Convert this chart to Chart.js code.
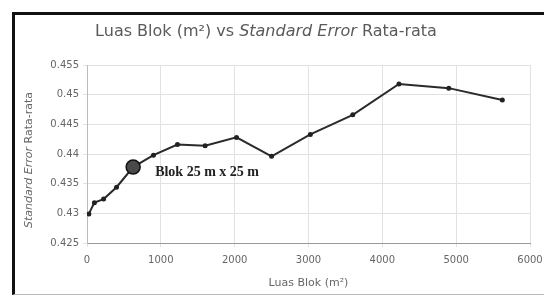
<!DOCTYPE html>
<html>
<head>
<meta charset="utf-8">
<script src="https://cdn.jsdelivr.net/npm/chart.js@4.4.1/dist/chart.umd.min.js"></script>
<style>
    html, body { margin: 0; padding: 0; background: #fff; }
    #wrap { position: relative; width: 544px; height: 296px; overflow: hidden; }
    #frame {
        position: absolute; left: 12px; top: 12px; width: 560px; height: 279px;
        border-left: 3px solid #111; border-top: 3px solid #111; border-bottom: 1px solid #bbb;
    }
    #grafico { position: absolute; left: 0; top: 0; }
</style>
</head>
<body>
<div id="wrap">
    <div id="frame"></div>
    <canvas id="grafico" width="544" height="296"></canvas>
</div>
<script>
// Luas blok (m2) = sisi x sisi, 5 m ... 75 m
const luasBlok = [25, 100, 225, 400, 625, 900, 1225, 1600, 2025, 2500, 3025, 3600, 4225, 4900, 5625];
// Standard error rata-rata
const stdError = [0.4299, 0.4318, 0.4324, 0.4344, 0.4378, 0.4398, 0.4416, 0.4414, 0.4428, 0.4396, 0.4433, 0.4466, 0.4518, 0.4511, 0.4491];
const xTicks = [0, 1000, 2000, 3000, 4000, 5000, 6000];
const yTicks = [0.425, 0.43, 0.435, 0.44, 0.445, 0.45, 0.455];
const indexSorot = 4; // blok 25 m x 25 m
const labelSorot = 'Blok 25 m x 25 m';

const abu = '#666';
const fam = '"DejaVu Sans", sans-serif';

// Judul dan judul sumbu Y dengan bagian miring
const teksCampuran = {
    id: 'teksCampuran',
    afterDraw(chart) {
        const ctx = chart.ctx;
        ctx.save();

        // judul
        const bagianJudul = [
            ['Luas Blok (m²) vs ', false],
            ['Standard Error', true],
            [' Rata-rata', false]
        ];
        tulisBaris(ctx, bagianJudul, 266, 32, 16, '#5a5a5a');

        // judul sumbu Y (diputar)
        ctx.translate(29, 160);
        ctx.rotate(-Math.PI / 2);
        const bagianY = [
            ['Standard Error', true],
            [' Rata-rata', false]
        ];
        tulisBaris(ctx, bagianY, 0, 0, 11, abu);
        ctx.restore();

        // label titik yang disorot
        const xs = chart.scales.x, ys = chart.scales.y;
        const px = xs.getPixelForValue(luasBlok[indexSorot]);
        const py = ys.getPixelForValue(stdError[indexSorot]);
        ctx.save();
        ctx.font = 'bold 14px "Liberation Serif", serif';
        ctx.fillStyle = '#222';
        ctx.textBaseline = 'middle';
        ctx.fillText(labelSorot, px + 22, py + 5);
        ctx.restore();
    }
};

function tulisBaris(ctx, bagian, cx, cy, size, warna) {
    let total = 0;
    bagian.forEach(b => {
        ctx.font = (b[1] ? 'italic ' : '') + size + 'px ' + fam;
        total += ctx.measureText(b[0]).width;
    });
    let x = cx - total / 2;
    ctx.fillStyle = warna;
    ctx.textBaseline = 'middle';
    ctx.textAlign = 'left';
    bagian.forEach(b => {
        ctx.font = (b[1] ? 'italic ' : '') + size + 'px ' + fam;
        ctx.fillText(b[0], x, cy);
        x += ctx.measureText(b[0]).width;
    });
}

const ctx = document.getElementById('grafico').getContext('2d');

new Chart(ctx, {
    type: 'line',
    data: {
        datasets: [{
            data: luasBlok.map((x, i) => ({ x: x, y: stdError[i] })),
            borderColor: '#2a2a2a',
            borderWidth: 2,
            pointRadius: luasBlok.map((_, i) => i === indexSorot ? 7 : 2.5),
            pointBackgroundColor: luasBlok.map((_, i) => i === indexSorot ? '#4a4a4a' : '#222'),
            pointBorderColor: '#111',
            pointBorderWidth: luasBlok.map((_, i) => i === indexSorot ? 1.5 : 0),
            tension: 0
        }]
    },
    options: {
        responsive: false,
        animation: false,
        layout: { padding: { top: 65, right: 14, left: 0, bottom: 0 } },
        plugins: {
            legend: { display: false },
            title: { display: false },
            tooltip: { enabled: false }
        },
        scales: {
            x: {
                type: 'linear',
                min: 0,
                max: 6000,
                afterBuildTicks: s => { s.ticks = xTicks.map(v => ({ value: v })); },
                afterFit: s => { s.height = 53; s.paddingRight = 6; },
                grid: { color: '#e2e2e2', tickLength: 4 },
                border: { color: '#999' },
                ticks: {
                    color: abu,
                    font: { size: 10, family: fam },
                    maxRotation: 0,
                    padding: 7,
                    callback: v => String(v)
                },
                title: {
                    display: true,
                    text: 'Luas Blok (m²)',
                    color: abu,
                    font: { size: 11, family: fam },
                    padding: { top: 0, bottom: 6 }
                }
            },
            y: {
                min: 0.425,
                max: 0.455,
                afterBuildTicks: s => { s.ticks = yTicks.map(v => ({ value: v })); },
                afterFit: s => { s.width = 87; },
                grid: { color: '#e2e2e2', tickLength: 4 },
                border: { color: '#bbb' },
                ticks: {
                    color: abu,
                    font: { size: 10, family: fam },
                    padding: 4,
                    callback: v => String(Number(v.toFixed(3)))
                }
            }
        }
    },
    plugins: [teksCampuran]
});
</script>
</body>
</html>
